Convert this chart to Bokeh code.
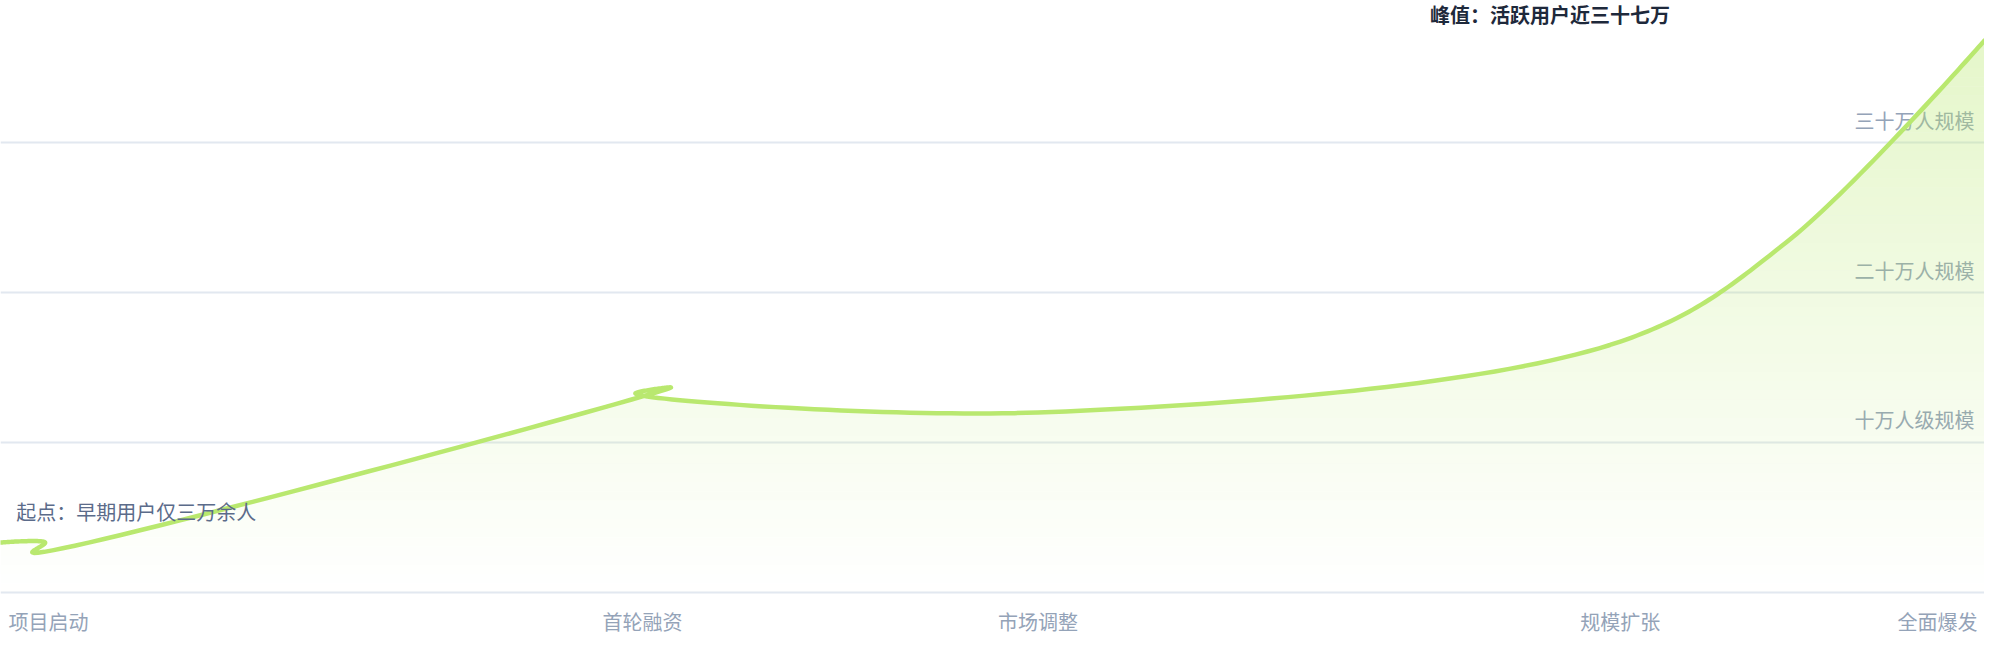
import numpy as np
from bokeh.plotting import figure
from bokeh.models import Range1d
from bokeh.core.properties import value
from bokeh.embed import file_html
from bokeh.resources import INLINE

# data: months since project start, active users (in drawing order)
months = [0.0, 1.08, 0.77, 16.22, 15.36, 25.1, 39.19, 43.2, 48.0]
users = [33300, 33300, 26700, 136700, 132700, 120000, 167300, 233300, 368000]

tick_months = [0.0, 15.53, 25.1, 39.19, 48.0]
tick_labels = ["项目启动", "首轮融资", "市场调整", "规模扩张", "全面爆发"]
grid_vals = [0, 100000, 200000, 300000]
grid_labels = ["十万人级规模", "二十万人规模", "三十万人规模"]
start_note = "起点：早期用户仅三万余人"
peak_note = "峰值：活跃用户近三十七万"

GREEN = "#b9e86f"
FONT = value("Noto Sans CJK SC")
W, H = 1984, 644
X0, X1 = 0, 48
Y0, Y1 = -34667, 394667


# place things by pixel of the 2000x660 layout
def vx(px):
    return X0 + px * (X1 - X0) / 2000


def vy(py):
    return (600 - py) / 1.5 * 1000


def catmull_rom(xs, ys, n=40, alpha=0.5):
    # centripetal Catmull-Rom (as d3.curveCatmullRom), computed in screen space
    sx = W / (X1 - X0)
    sy = H / (Y1 - Y0)
    P = [np.array([x * sx, y * sy]) for x, y in zip(xs, ys)]
    L = [np.linalg.norm(P[i + 1] - P[i]) ** alpha for i in range(len(P) - 1)]
    out = []
    t = np.linspace(0, 1, n)
    for i in range(len(P) - 1):
        p1, p2 = P[i], P[i + 1]
        c1, c2 = p1.copy(), p2.copy()
        l12 = L[i]
        if i > 0 and L[i - 1] > 1e-12:
            l01 = L[i - 1]
            a = 2 * l01 ** 2 + 3 * l01 * l12 + l12 ** 2
            c1 = (p1 * a - P[i - 1] * l12 ** 2 + p2 * l01 ** 2) / (3 * l01 * (l01 + l12))
        if i + 2 < len(P) and L[i + 1] > 1e-12:
            l23 = L[i + 1]
            b = 2 * l23 ** 2 + 3 * l23 * l12 + l12 ** 2
            c2 = (p2 * b + p1 * l23 ** 2 - P[i + 2] * l12 ** 2) / (3 * l23 * (l23 + l12))
        seg = (np.outer((1 - t) ** 3, p1) + np.outer(3 * (1 - t) ** 2 * t, c1)
               + np.outer(3 * (1 - t) * t ** 2, c2) + np.outer(t ** 3, p2))
        out.append(seg if i == 0 else seg[1:])
    pts = np.vstack(out)
    return pts[:, 0] / sx, pts[:, 1] / sy


cx, cy = catmull_rom(months, users)

p = figure(width=W, height=H, x_range=Range1d(X0, X1), y_range=Range1d(Y0, Y1),
           output_backend="svg", toolbar_location=None, min_border=0)
p.axis.visible = False
p.grid.visible = False
p.outline_line_color = None
p.background_fill_color = "white"
p.border_fill_color = "white"

p.hspan(y=grid_vals, line_color="#e2e8f0", line_width=2, level="underlay")

p.text(x=[vx(1990)] * 3, y=[v + 22.5 / 1.5 * 1000 for v in grid_vals[1:]], text=grid_labels,
       text_align="right", text_baseline="middle", text_font=FONT,
       text_font_size="20px", text_color="#94a3b8", level="underlay")

# vertical gradient under the curve, built from thin bands
top = max(users)
edges = np.linspace(0, top, 61)
for lo, hi in zip(edges[:-1], edges[1:]):
    a = 0.37 * (lo + hi) / 2 / top
    p.varea(x=cx, y1=np.minimum(cy, lo), y2=np.minimum(cy, hi),
            fill_color=GREEN, fill_alpha=a)

p.line(cx, cy, line_color=GREEN, line_width=4.5, line_join="round", line_cap="round")

aligns = ["left", "center", "center", "center", "right"]
xt = [vx(8)] + tick_months[1:-1] + [vx(1993)]
for x, lab, al in zip(xt, tick_labels, aligns):
    p.text(x=[x], y=[vy(629.5)], text=[lab], text_align=al, text_baseline="middle",
           text_font=FONT, text_font_size="20px", text_color="#94a3b8")

p.text(x=[vx(16)], y=[vy(519)], text=[start_note], text_align="left",
       text_baseline="middle", text_font=FONT, text_font_size="20px",
       text_color="#5b6b8a")
p.text(x=[vx(1441)], y=[vy(21.5)], text=[peak_note], text_align="left",
       text_baseline="middle", text_font=FONT, text_font_size="20px",
       text_font_style="bold", text_color="#1e293b")

open("out.html", "w").write(file_html(p, INLINE))
